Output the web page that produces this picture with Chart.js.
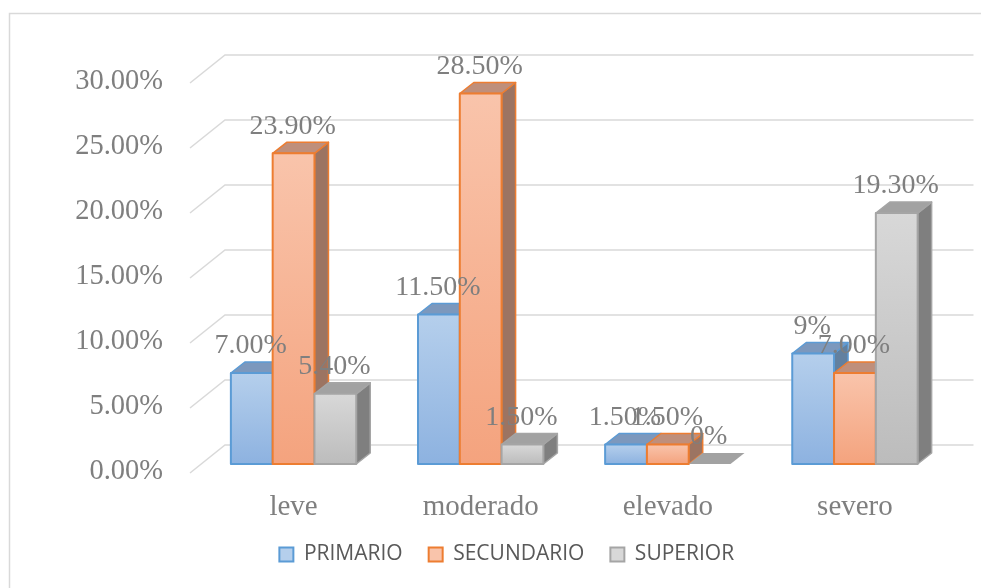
<!DOCTYPE html>
<html>
<head>
<meta charset="utf-8">
<script src="https://cdn.jsdelivr.net/npm/chart.js@4.4.0/dist/chart.umd.min.js"></script>
<style>
  html, body { margin: 0; padding: 0; background: #fff; overflow: hidden; }
  canvas { display: block; }
</style>
</head>
<body>
<canvas id="chart" width="981" height="588"></canvas>
<script>
// data (percent)
var categories = ["leve", "moderado", "elevado", "severo"];
var seriesNames = ["PRIMARIO", "SECUNDARIO", "SUPERIOR"];
var primario = [7.0, 11.5, 1.5, 8.5];
var secundario = [23.9, 28.5, 1.5, 7.0];
var superior = [5.4, 1.5, 0, 19.3];
// value labels as printed on the chart
var primarioLabels = ["7.00%", "11.50%", "1.50%", "9%"];
var secundarioLabels = ["23.90%", "28.50%", "1.50%", "7.00%"];
var superiorLabels = ["5.40%", "1.50%", "0%", "19.30%"];
var yTicks = [0, 5, 10, 15, 20, 25, 30];

var pointLabels = [primarioLabels, secundarioLabels, superiorLabels];

// face colours for each series
var styles = [
  { light: "#b5cfec", dark: "#8db2e0", border: "#5b9bd5", lid: "#7c98bd", side: "#62809f" },
  { light: "#f9c4ab", dark: "#f4a37e", border: "#ed7d31", lid: "#bf8f7b", side: "#9c7462" },
  { light: "#d8d8d8", dark: "#bcbcbc", border: "#a5a5a5", lid: "#a2a2a2", side: "#7f7f7f" }
];

var DX = 14, DY = 11;          // depth of one bar
var WALL_X = 25, WALL_Y = 19;  // back wall offset
var FRONT_X = 10, FRONT_Y = 9; // front edge offset

var serif = '"Liberation Serif", "Times New Roman", serif';

//draws the frame, the 3d grid, the boxes and their labels
var bars3d = {
  id: "bars3d",
  beforeDraw: function(chart) {
    var ctx = chart.ctx;
    ctx.save();
    ctx.fillStyle = "#fff";
    ctx.fillRect(0, 0, chart.width, chart.height);
    // only the top and left edges of the frame are inside the picture
    ctx.strokeStyle = "#d9d9d9";
    ctx.lineWidth = 1.5;
    ctx.beginPath();
    ctx.moveTo(9.5, chart.height);
    ctx.lineTo(9.5, 13.5);
    ctx.lineTo(chart.width, 13.5);
    ctx.stroke();
    ctx.restore();
  },
  beforeDatasetsDraw: function(chart) {
    var ctx = chart.ctx, ys = chart.scales.y, ca = chart.chartArea;
    ctx.save();
    ctx.strokeStyle = "#d9d9d9";
    ctx.lineWidth = 1.5;
    yTicks.forEach(function(v) {
      var y = ys.getPixelForValue(v);
      ctx.beginPath();
      ctx.moveTo(ca.left - FRONT_X, y + FRONT_Y);
      ctx.lineTo(ca.left + WALL_X, y - WALL_Y);
      ctx.lineTo(ca.right + WALL_X, y - WALL_Y);
      ctx.stroke();
    });
    ctx.restore();
  },
  afterDatasetsDraw: function(chart) {
    var ctx = chart.ctx;
    var n = chart.data.labels.length;
    ctx.save();
    ctx.lineJoin = "round";
    for (var i = 0; i < n; i++) {
      chart.data.datasets.forEach(function(ds, d) {
        var st = styles[d];
        var p = chart.getDatasetMeta(d).data[i].getProps(["x", "y", "base", "width"], true);
        var l = p.x - p.width / 2, r = p.x + p.width / 2, t = p.y, b = p.base;

        ctx.lineWidth = 1.5;
        ctx.strokeStyle = st.border;
        // side
        if (b - t > 0.5) {
          ctx.beginPath();
          ctx.moveTo(r, t);
          ctx.lineTo(r + DX, t - DY);
          ctx.lineTo(r + DX, b - DY);
          ctx.lineTo(r, b);
          ctx.closePath();
          ctx.fillStyle = st.side;
          ctx.fill();
          ctx.stroke();
        }
        // top
        ctx.beginPath();
        ctx.moveTo(l, t);
        ctx.lineTo(l + DX, t - DY);
        ctx.lineTo(r + DX, t - DY);
        ctx.lineTo(r, t);
        ctx.closePath();
        ctx.fillStyle = st.lid;
        ctx.fill();
        if (b - t > 0.5) ctx.stroke();
        // front
        if (b - t > 0.5) {
          var g = ctx.createLinearGradient(0, t, 0, b);
          g.addColorStop(0, st.light);
          g.addColorStop(1, st.dark);
          ctx.fillStyle = g;
          ctx.fillRect(l, t, r - l, b - t);
          ctx.lineWidth = 2;
          ctx.strokeRect(l, t, r - l, b - t);
        }
      });
    }

    // value labels
    ctx.font = "28px " + serif;
    ctx.fillStyle = "#7f7f7f";
    ctx.textAlign = "center";
    ctx.textBaseline = "middle";
    chart.data.datasets.forEach(function(ds, d) {
      chart.getDatasetMeta(d).data.forEach(function(bar, i) {
        var p = bar.getProps(["x", "y"], true);
        ctx.fillText(pointLabels[d][i], p.x - 1, p.y - 27);
      });
    });
    ctx.restore();
  }
};

var seriesData = [primario, secundario, superior];

new Chart(document.getElementById("chart").getContext("2d"), {
  type: "bar",
  data: {
    labels: categories,
    datasets: seriesNames.map(function(name, d) {
      return {
        label: name,
        data: seriesData[d],
        backgroundColor: "rgba(0,0,0,0)",
        borderWidth: 0,
        barPercentage: 1,
        categoryPercentage: 0.67
      };
    })
  },
  options: {
    responsive: false,
    animation: false,
    layout: { padding: { left: 65, right: 32.5, top: 74, bottom: 13 } },
    scales: {
      x: {
        grid: { display: false, drawTicks: false },
        border: { display: false },
        ticks: { color: "#7f7f7f", font: { family: serif, size: 29 }, padding: 26 },
        afterFit: function(s) { s.height = 54; }
      },
      y: {
        min: 0,
        max: 30,
        grid: { display: false, drawTicks: false },
        border: { display: false },
        ticks: {
          stepSize: 5,
          padding: 37,
          labelOffset: 8,
          color: "#7f7f7f",
          font: { family: serif, size: 28.5 },
          callback: function(v) { return v.toFixed(2) + "%"; }
        },
        afterFit: function(s) { s.width = 135; }
      }
    },
    plugins: {
      tooltip: { enabled: false },
      legend: {
        position: "bottom",
        labels: {
          boxWidth: 14,
          boxHeight: 14,
          padding: 26,
          color: "#595959",
          font: { family: '"Open Sans", sans-serif', size: 21 },
          generateLabels: function(chart) {
            return chart.data.datasets.map(function(ds, i) {
              return {
                text: ds.label,
                fillStyle: styles[i].light,
                strokeStyle: styles[i].border,
                lineWidth: 2,
                fontColor: "#595959",
                hidden: false,
                datasetIndex: i
              };
            });
          }
        }
      }
    }
  },
  plugins: [bars3d]
});
</script>
</body>
</html>
